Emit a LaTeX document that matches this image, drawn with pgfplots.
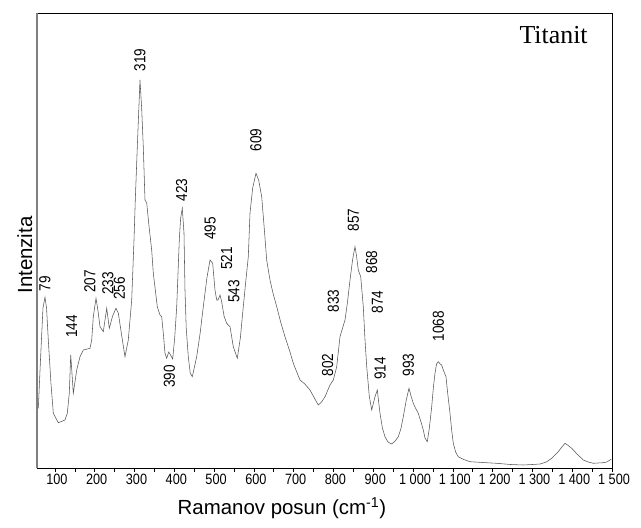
\documentclass[border=0pt]{standalone}
\usepackage{fontspec}
\setmainfont{Liberation Sans}
\newfontfamily\timesfont{Liberation Serif}
\newfontfamily\narrowsans[FakeStretch=0.85]{Liberation Sans}
\usepackage{pgfplots}
\pgfplotsset{compat=1.18}
\definecolor{spec}{RGB}{85,85,85}
\tikzset{peak/.style={rotate=90, anchor=west, inner sep=0pt,
    font=\narrowsans\fontsize{16}{18}\selectfont}}

\begin{document}
\begin{tikzpicture}
\begin{axis}[
    scale only axis,
    width=575bp, height=455bp,
    xmin=55, xmax=1500, ymin=0, ymax=455,
    xtick={100,200,...,1500},
    minor xtick={150,250,...,1450},
    ytick=\empty,
    tick align=outside,
    major tick length=4bp, minor tick length=4bp,
    every tick/.style={black, line width=0.6pt},
    axis line style={black, line width=0.8pt},
    xtick pos=bottom,
    /pgf/number format/assume math mode=true,
    /pgf/number format/1000 sep={\ },
    tick label style={font=\narrowsans\fontsize{15}{17}\selectfont},
    xticklabel style={xshift=2bp, inner sep=2pt},
    xlabel={Ramanov posun (cm\textsuperscript{-1})},
    xlabel style={at={(axis description cs:0.426,-0.088)}, anchor=center,
        font=\fontsize{20.5}{24}\selectfont},
    ylabel={Intenzita},
    ylabel style={at={(axis description cs:-0.021,0.468)}, anchor=center,
        font=\fontsize{20.5}{24}\selectfont},
    clip=false,
]
% spectrum
\addplot[spec, line width=0.55pt] coordinates {
(58.3,59.7) (64,110) (70,160) (75.1,170.7) (79,160) (83.4,128) (90,85) (96.0,54.7)
(108.5,45.3) (125.4,48) (131.1,54.7) (136.2,75) (139.7,113) (142,100) (146.2,74.7)
(154.8,98) (163.1,111.3) (171.4,118) (188.2,119.7) (192.5,128) (196.5,151.3)
(203.3,169.7) (208,158) (213.3,141.3) (221.6,136.3) (230.2,159.7) (236.7,139.7)
(245,152) (253.5,159.7) (259.3,155) (268,132) (276.1,111.3) (284.4,128) (293.0,168)
(298.8,228) (302.0,268) (307.1,321.3) (313.8,388) (318,360) (322.1,321.3) (326.4,268)
(330.7,265) (337,240) (343.2,218) (347.3,194.7) (357.3,161.3) (364.1,153) (368.4,151.3)
(372.4,134.7) (376.7,114.7) (380.9,109.7) (386,116) (389.2,114) (396.0,109) (401,130)
(406.1,161.3) (412.6,228) (416,250) (420.1,259.7) (424.4,235) (426.9,178) (430,140)
(435.2,111.3) (440,95) (445.3,91.3) (456.3,111.3) (465,135) (472.9,161.3) (482,190)
(489.8,208) (496.5,204.7) (502.3,178) (506.6,168) (510,168) (514.9,173) (519.1,166.3)
(525,152) (531.7,144.7) (540.0,141.3) (548.3,121.3) (558.4,109.7) (566,130) (573.4,161.3)
(580,188) (586.0,211.3) (590.3,255) (597,280) (605.3,294.7) (612,288) (619.7,271.3)
(626,240) (632.2,208) (640.5,188) (648,175) (657.4,161.3) (668,145) (678.2,131.3)
(690,117) (699.1,104.7) (715.9,88) (728,84) (741.0,78) (752,70) (761.9,63) (770,66)
(778.8,71.3) (791.3,83) (799.6,88) (808.2,101.3) (816.4,131.3) (829.0,148) (835,165)
(841.6,188) (848,208) (854.1,221.3) (858,212) (862.4,198) (868.5,191.3) (875.0,161.3)
(879,130) (883.6,101.3) (890,72) (896.1,58) (904.4,71.3) (910.2,78) (913,68)
(917.0,54.7) (923,40) (929.5,31.3) (937,26) (946.4,24) (955,27) (963.0,31.3) (970,40)
(975.5,51.3) (983,68) (989.8,79.7) (995,72) (1000.6,64.7) (1006,60) (1013.2,54.7)
(1020,46) (1025.8,38) (1030,30) (1035.8,26.3) (1041,40) (1046.9,61.3) (1051,80)
(1055.2,94.7) (1059,104) (1063.5,106.3) (1068,104) (1072.0,103) (1077,97) (1082.8,91.3)
(1087,75) (1092.9,54.7) (1097,38) (1101.2,24.7) (1107,16) (1113.7,11.3) (1126.3,8.7)
(1143.1,6.3) (1175,5.5) (1210.2,4.7) (1245,3.5) (1276.3,3) (1300,3.5) (1319.1,4)
(1335,6) (1348.5,9.7) (1364.4,16) (1374,21) (1382.0,24.7) (1390,22.5) (1398.8,19.7)
(1412,14) (1428.0,8) (1440,6) (1453.1,4.7) (1465,5) (1477.4,5.3) (1487,6) (1495.0,8)
(1498,9)
};
% peak labels
\node[peak] at (axis cs:75.1,176.3) {79};
\node[peak] at (axis cs:142.2,130) {144};
\node[peak] at (axis cs:188.2,175) {207};
\node[peak] at (axis cs:233.4,173) {233};
\node[peak] at (axis cs:262.3,168) {256};
\node[peak] at (axis cs:313.8,396.3) {319};
\node[peak] at (axis cs:387.5,80) {390};
\node[peak] at (axis cs:418.6,266.3) {423};
\node[peak] at (axis cs:489.8,228) {495};
\node[peak] at (axis cs:531.7,198) {521};
\node[peak] at (axis cs:550,165) {543};
\node[peak] at (axis cs:605.3,316.3) {609};
\node[peak] at (axis cs:785.5,91.3) {802};
\node[peak] at (axis cs:799.6,155.3) {833};
\node[peak] at (axis cs:849.9,236.3) {857};
\node[peak] at (axis cs:896.1,194.7) {868};
\node[peak] at (axis cs:910.2,154.7) {874};
\node[peak] at (axis cs:917,88) {914};
\node[peak] at (axis cs:988.1,91.3) {993};
\node[peak] at (axis cs:1063.5,126.3) {1068};
\node[anchor=base east, inner sep=0pt, font=\timesfont\fontsize{26}{30}\selectfont]
    at (rel axis cs:0.958,0.934) {Titanit};
% thicker grey left edge as in the original
\draw[gray, line width=1.8pt] (rel axis cs:0,0) -- (rel axis cs:0,1);
\coordinate (bl) at (rel axis cs:-0.06435,-0.13187);
\coordinate (tr) at (rel axis cs:1.05043,1.02857);
\end{axis}
\pgfresetboundingbox
\useasboundingbox (bl) rectangle (tr);
\end{tikzpicture}
\end{document}
